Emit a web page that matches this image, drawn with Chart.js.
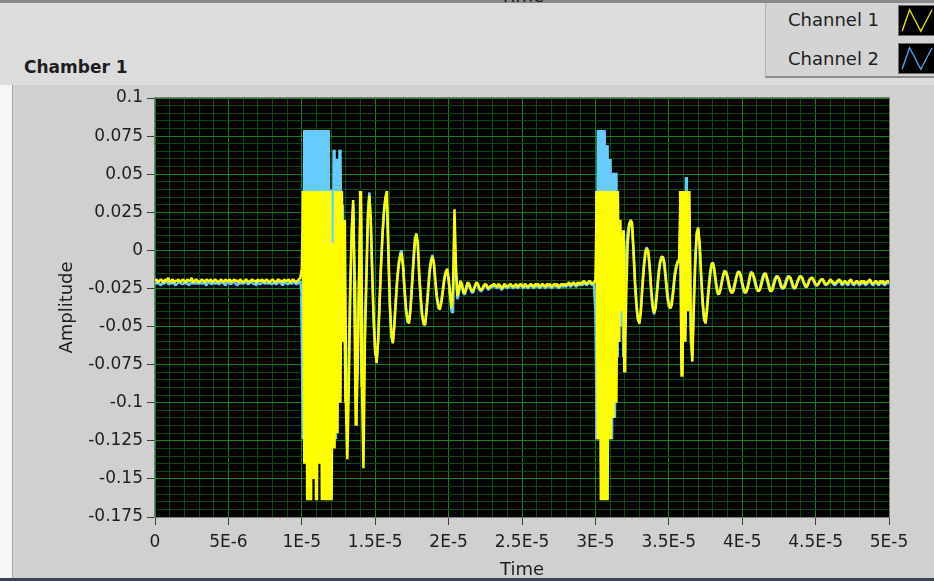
<!DOCTYPE html>
<html>
<head>
<meta charset="utf-8">
<script src="https://cdn.jsdelivr.net/npm/chart.js@4.4.1/dist/chart.umd.min.js"></script>
<style>
  html, body { margin: 0; padding: 0; width: 934px; height: 581px; overflow: hidden; background: #dcdcdc; font-family: "DejaVu Sans", sans-serif; color: #1e1e1e; }
  .abs { position: absolute; }
  #topbar { left: 0; top: 0; width: 934px; height: 3px; background: #8a8a8a; }
  #toptitle { left: 500px; top: -14px; font-size: 18px; line-height: 20px; color: #1e1e1e; }
  #leftstrip { left: 0; top: 85px; width: 12px; height: 493px; background: #f6f6f6; }
  #panel { left: 12px; top: 85px; width: 922px; height: 493px; background: #d0d0d0; border-left: 1px solid #a6a6a6; box-sizing: border-box; }
  #bottombar { left: 0; top: 578px; width: 934px; height: 3px; background: #3a4656; }
  #chamber { left: 24px; top: 57px; font-size: 17px; font-weight: bold; line-height: 20px; }
  #legend { left: 765px; top: 3px; width: 169px; height: 75px; background: #d4d4d4; border-left: 1px solid #b4b4b4; border-bottom: 2px solid #8c8c8c; box-sizing: border-box; }
  .lbl { font-size: 18px; line-height: 20px; left: 22px; }
  .sw { left: 132px; width: 40px; height: 31px; background: #000; border: 1px solid #6a6a6a; box-sizing: border-box; }
  #wrap { left: 0; top: 0; width: 934px; height: 581px; }
</style>
</head>
<body>
<div id="panel" class="abs"></div>
<div id="leftstrip" class="abs"></div>
<div id="topbar" class="abs"></div>
<div id="toptitle" class="abs">Time</div>
<div id="chamber" class="abs">Chamber 1</div>
<div id="legend" class="abs">
  <div class="abs lbl" style="top:7px">Channel 1</div>
  <svg class="abs sw" style="top:2px" viewBox="0 0 40 31"><polyline points="3,27 11,4 23,27 35,4" fill="none" stroke="#e0e000" stroke-width="1.5"/></svg>
  <div class="abs lbl" style="top:46px">Channel 2</div>
  <svg class="abs sw" style="top:40px" viewBox="0 0 40 31"><polyline points="3,27 11,4 23,27 35,4" fill="none" stroke="#45a8e4" stroke-width="1.5"/></svg>
</div>
<div id="wrap" class="abs"><canvas id="graph" width="934" height="581"></canvas></div>
<div id="bottombar" class="abs"></div>

<script>
// Waveform sampling: one sample every 0.1 microsecond, amplitudes stored in thousandths.
const SAMPLE_PERIOD = 1e-7;
const AMPLITUDE_UNIT = 1e-3;

// Major tick labels (minor grid divisions are 1E-6 s and 0.005)
const timeLabels = ['0', '5E-6', '1E-5', '1.5E-5', '2E-5', '2.5E-5', '3E-5', '3.5E-5', '4E-5', '4.5E-5', '5E-5'];
const amplitudeLabels = ['-0.175', '-0.15', '-0.125', '-0.1', '-0.075', '-0.05', '-0.025', '0', '0.025', '0.05', '0.075', '0.1'];

const seriesNames = ['Channel 1', 'Channel 2'];

// Channel 1 samples
const channel1 = [
  -20,-19,-21,-20,-19,-20,-21,-19,-20,-18,
  -21,-20,-19,-21,-20,-20,-19,-21,-20,-19,
  -20,-21,-19,-20,-20,-18,-21,-20,-19,-20,
  -21,-20,-19,-20,-21,-19,-20,-20,-19,-21,
  -20,-19,-20,-21,-20,-19,-20,-21,-19,-20,
  -20,-19,-21,-20,-19,-20,-20,-21,-19,-20,
  -21,-20,-19,-20,-21,-20,-19,-20,-20,-21,
  -19,-20,-20,-19,-21,-20,-19,-20,-21,-20,
  -19,-20,-21,-20,-19,-20,-20,-21,-19,-20,
  -20,-19,-21,-20,-19,-20,-21,-20,-19,-18,
  -12,39,-140,39,-164,39,-164,39,-150,39,
  -164,39,-140,39,-164,39,-164,39,-164,39,
  -164,5,-130,39,-120,39,-100,39,-60,20,
  -100,-137,-90,-30,10,33,-20,-115,-80,-20,
  39,-90,-143,-60,-20,20,36,20,-15,-45,
  -65,-74,-60,-35,-10,10,25,35,39,0,
  -35,-55,-61,-50,-35,-20,-10,-4,-2,-10,
  -25,-38,-45,-48,-40,-25,-10,5,11,5,
  -15,-30,-42,-48,-49,-40,-28,-15,-8,-4,
  -8,-20,-30,-36,-39,-35,-28,-20,-15,-12,
  -18,-28,-38,-25,27,-10,-30,-26,-20,-22,
  -27,-28,-24,-21,-22,-25,-27,-26,-23,-21,
  -22,-25,-26,-25,-23,-22,-23,-25,-24,-23,
  -23,-22,-23,-24,-22,-23,-25,-24,-22,-23,
  -24,-23,-22,-23,-24,-23,-22,-24,-23,-22,
  -23,-24,-22,-23,-24,-23,-22,-23,-24,-22,
  -23,-22,-24,-23,-22,-23,-24,-22,-23,-22,
  -24,-23,-22,-23,-22,-24,-23,-22,-23,-22,
  -23,-22,-21,-23,-22,-21,-22,-23,-21,-22,
  -21,-22,-20,-21,-22,-21,-20,-21,-22,-21,
  -20,39,-124,39,-164,39,-164,39,-164,39,
  -124,39,-110,39,-100,39,-60,20,-40,13,
  -80,-30,5,15,20,18,0,-20,-35,-45,
  -48,-40,-25,-12,-3,1,0,-10,-25,-36,
  -41,-38,-28,-17,-9,-5,-4,-8,-18,-28,
  -35,-38,-36,-28,-18,-12,-8,-7,39,-83,
  39,-60,39,-40,39,-50,-73,-40,-10,10,
  15,5,-15,-32,-44,-48,-40,-28,-18,-10,
  -8,-12,-20,-26,-29,-27,-22,-17,-14,-14,
  -17,-22,-26,-28,-27,-23,-18,-15,-14,-16,
  -21,-25,-28,-27,-24,-19,-15,-15,-17,-21,
  -25,-27,-26,-23,-19,-16,-15,-18,-22,-26,
  -27,-25,-21,-18,-17,-18,-21,-24,-25,-24,
  -21,-18,-17,-18,-21,-24,-25,-23,-20,-18,
  -17,-18,-21,-23,-24,-22,-19,-18,-18,-20,
  -22,-23,-22,-20,-19,-19,-21,-22,-22,-21,
  -19,-20,-21,-22,-21,-20,-19,-20,-22,-21,
  -20,-21,-22,-20,-19,-21,-22,-21,-20,-21,
  -22,-20,-21,-20,-22,-21,-20,-19,-21,-22,
  -21,-20,-21,-22,-20,-21,-20,-22,-21,-20,
  -21
];

// Channel 2 samples
const channel2 = [
  -21,-22,-21,-22,-23,-21,-22,-21,-20,-22,
  -22,-21,-22,-21,-23,-22,-21,-21,-22,-22,
  -21,-22,-21,-23,-22,-21,-22,-21,-22,-21,
  -22,-21,-22,-21,-22,-23,-21,-21,-22,-22,
  -21,-22,-21,-22,-22,-21,-21,-22,-23,-21,
  -21,-22,-22,-21,-21,-22,-23,-21,-22,-21,
  -22,-21,-21,-22,-22,-21,-21,-22,-22,-23,
  -21,-22,-22,-21,-21,-22,-21,-22,-21,-22,
  -22,-21,-22,-22,-21,-21,-22,-23,-21,-21,
  -22,-22,-21,-22,-21,-21,-22,-22,-21,-20,
  -30,-124,79,-124,79,-124,79,-124,79,-124,
  79,-124,79,-124,79,-124,79,-124,79,-124,
  40,-124,66,-124,60,-91,66,-60,30,-40,
  -91,-120,-70,-20,15,30,-25,-100,-70,-15,
  30,-80,-100,-50,-15,25,38,18,-18,-48,
  -68,-72,-58,-32,-8,12,27,35,30,-5,
  -38,-57,-60,-48,-32,-18,-8,-2,0,-12,
  -28,-40,-47,-47,-38,-22,-6,8,11,3,
  -18,-33,-44,-49,-48,-38,-25,-13,-6,-3,
  -10,-22,-32,-38,-38,-33,-26,-18,-14,-13,
  -20,-30,-40,-41,10,-15,-32,-28,-22,-23,
  -28,-29,-26,-23,-23,-26,-28,-27,-24,-22,
  -23,-26,-27,-26,-24,-23,-24,-26,-25,-24,
  -24,-23,-24,-25,-23,-24,-26,-25,-23,-24,
  -25,-24,-23,-24,-25,-24,-23,-25,-24,-23,
  -24,-25,-23,-24,-25,-24,-23,-24,-25,-23,
  -24,-23,-25,-24,-23,-24,-25,-23,-24,-23,
  -25,-24,-23,-24,-23,-25,-24,-23,-24,-23,
  -24,-23,-22,-24,-23,-22,-23,-24,-22,-23,
  -22,-23,-21,-22,-23,-22,-21,-22,-23,-22,
  -40,-124,79,-124,79,-124,79,-124,69,-124,
  60,-124,51,-110,51,-70,10,-50,5,-70,
  -40,0,12,18,19,15,-3,-24,-38,-46,
  -47,-38,-22,-9,0,2,-2,-13,-28,-38,
  -42,-36,-25,-14,-7,-4,-5,-11,-21,-31,
  -37,-38,-33,-25,-15,-10,-7,-6,20,-78,
  30,-50,48,-35,25,-60,-70,-32,-5,12,
  14,2,-18,-35,-46,-47,-37,-25,-15,-9,
  -8,-14,-22,-28,-29,-26,-20,-16,-13,-15,
  -19,-24,-27,-28,-25,-21,-17,-14,-14,-18,
  -23,-27,-28,-26,-22,-17,-14,-15,-19,-23,
  -26,-27,-25,-21,-17,-15,-16,-20,-24,-27,
  -26,-23,-19,-17,-17,-19,-23,-25,-25,-22,
  -19,-17,-17,-19,-23,-25,-25,-22,-19,-17,
  -17,-19,-22,-24,-24,-21,-19,-18,-19,-21,
  -23,-23,-22,-20,-19,-20,-22,-23,-22,-21,
  -20,-21,-22,-23,-22,-21,-20,-21,-23,-22,
  -21,-22,-23,-21,-20,-22,-23,-22,-21,-22,
  -23,-21,-22,-21,-23,-22,-21,-20,-22,-23,
  -22,-21,-22,-23,-21,-22,-21,-23,-22,-21,
  -22
];

// ---- styling ----
const PLOT_BG = '#000000';
const GRID_MAJOR = '#138513';
const GRID_MINOR = '#0b4a0b';
const TICK_MARK = '#3a3a3a';
const TEXT = '#1e1e1e';
const TICK_FONT = { family: 'DejaVu Sans', size: 17 };
const TITLE_FONT = { family: 'DejaVu Sans', size: 18 };
const TRACE_WIDTH = 2.5;
const SWING_WIDTH = 3.4;   // full-scale swings are drawn a bit heavier so they merge into a solid band

const toPoints = arr => arr.map((v, i) => ({ x: i * SAMPLE_PERIOD, y: v * AMPLITUDE_UNIT }));
const segmentWidth = c => (Math.abs(c.p1.parsed.y - c.p0.parsed.y) > 0.09 ? SWING_WIDTH : TRACE_WIDTH);

const X_MIN = 0, X_MAX = 5e-5, X_STEP = 1e-6;
const Y_MIN = -0.175, Y_MAX = 0.1, Y_STEP = 0.005;
const xIndex = v => Math.round((v - X_MIN) / X_STEP);
const yIndex = v => Math.round((v - Y_MIN) / Y_STEP);

// black plot area underneath the grid, thin frame on top
const plotFrame = {
  id: 'plotFrame',
  beforeDraw(chart) {
    const { ctx, chartArea: a } = chart;
    ctx.save();
    ctx.fillStyle = PLOT_BG;
    ctx.fillRect(a.left, a.top, a.right - a.left, a.bottom - a.top);
    ctx.restore();
  },
  afterDraw(chart) {
    const { ctx, chartArea: a } = chart;
    ctx.save();
    ctx.strokeStyle = '#7c7c7c';
    ctx.lineWidth = 1;
    ctx.strokeRect(a.left - 0.5, a.top - 0.5, a.right - a.left + 1, a.bottom - a.top + 1);
    ctx.restore();
  }
};

new Chart(document.getElementById('graph'), {
  type: 'line',
  data: {
    datasets: [
      { label: seriesNames[0], data: toPoints(channel1), borderColor: '#ffff00', borderWidth: TRACE_WIDTH, segment: { borderWidth: segmentWidth } },
      { label: seriesNames[1], data: toPoints(channel2), borderColor: '#66ccff', borderWidth: TRACE_WIDTH, segment: { borderWidth: segmentWidth } }
    ]
  },
  options: {
    responsive: false,
    animation: false,
    events: [],
    layout: { padding: { left: 55, right: 45, top: 98, bottom: 0 } },
    plugins: { legend: { display: false }, tooltip: { enabled: false } },
    elements: { point: { radius: 0 }, line: { tension: 0, fill: false, borderJoinStyle: 'bevel' } },
    scales: {
      x: {
        type: 'linear', min: X_MIN, max: X_MAX,
        afterFit(s) { s.height = 64; },
        border: { display: false },
        grid: {
          color: c => (xIndex(c.tick.value) % 5 === 0 ? GRID_MAJOR : GRID_MINOR),
          tickColor: c => (xIndex(c.tick.value) % 5 === 0 ? TICK_MARK : 'rgba(0,0,0,0)'),
          tickLength: 8, lineWidth: 1
        },
        ticks: {
          stepSize: X_STEP, maxTicksLimit: 1000, autoSkip: false, maxRotation: 0, minRotation: 0,
          color: TEXT, font: TICK_FONT, padding: 7,
          callback: v => { const k = xIndex(v); return k % 5 === 0 ? timeLabels[k / 5] : ''; }
        },
        title: { display: true, text: 'Time', color: TEXT, font: TITLE_FONT, padding: { top: 0, bottom: 0 } }
      },
      y: {
        type: 'linear', min: Y_MIN, max: Y_MAX,
        afterFit(s) { s.width = 100; },
        border: { display: false },
        grid: {
          color: c => (yIndex(c.tick.value) % 5 === 0 ? GRID_MAJOR : GRID_MINOR),
          tickColor: c => (yIndex(c.tick.value) % 5 === 0 ? TICK_MARK : 'rgba(0,0,0,0)'),
          tickLength: 8, lineWidth: 1
        },
        ticks: {
          stepSize: Y_STEP, maxTicksLimit: 1000, autoSkip: false,
          color: TEXT, font: TICK_FONT, padding: 4,
          callback: v => { const k = yIndex(v); return k % 5 === 0 ? amplitudeLabels[k / 5] : ''; }
        },
        title: { display: true, text: 'Amplitude', color: TEXT, font: TITLE_FONT, padding: { top: 2, bottom: 0 } }
      }
    }
  },
  plugins: [plotFrame]
});
</script>
</body>
</html>
